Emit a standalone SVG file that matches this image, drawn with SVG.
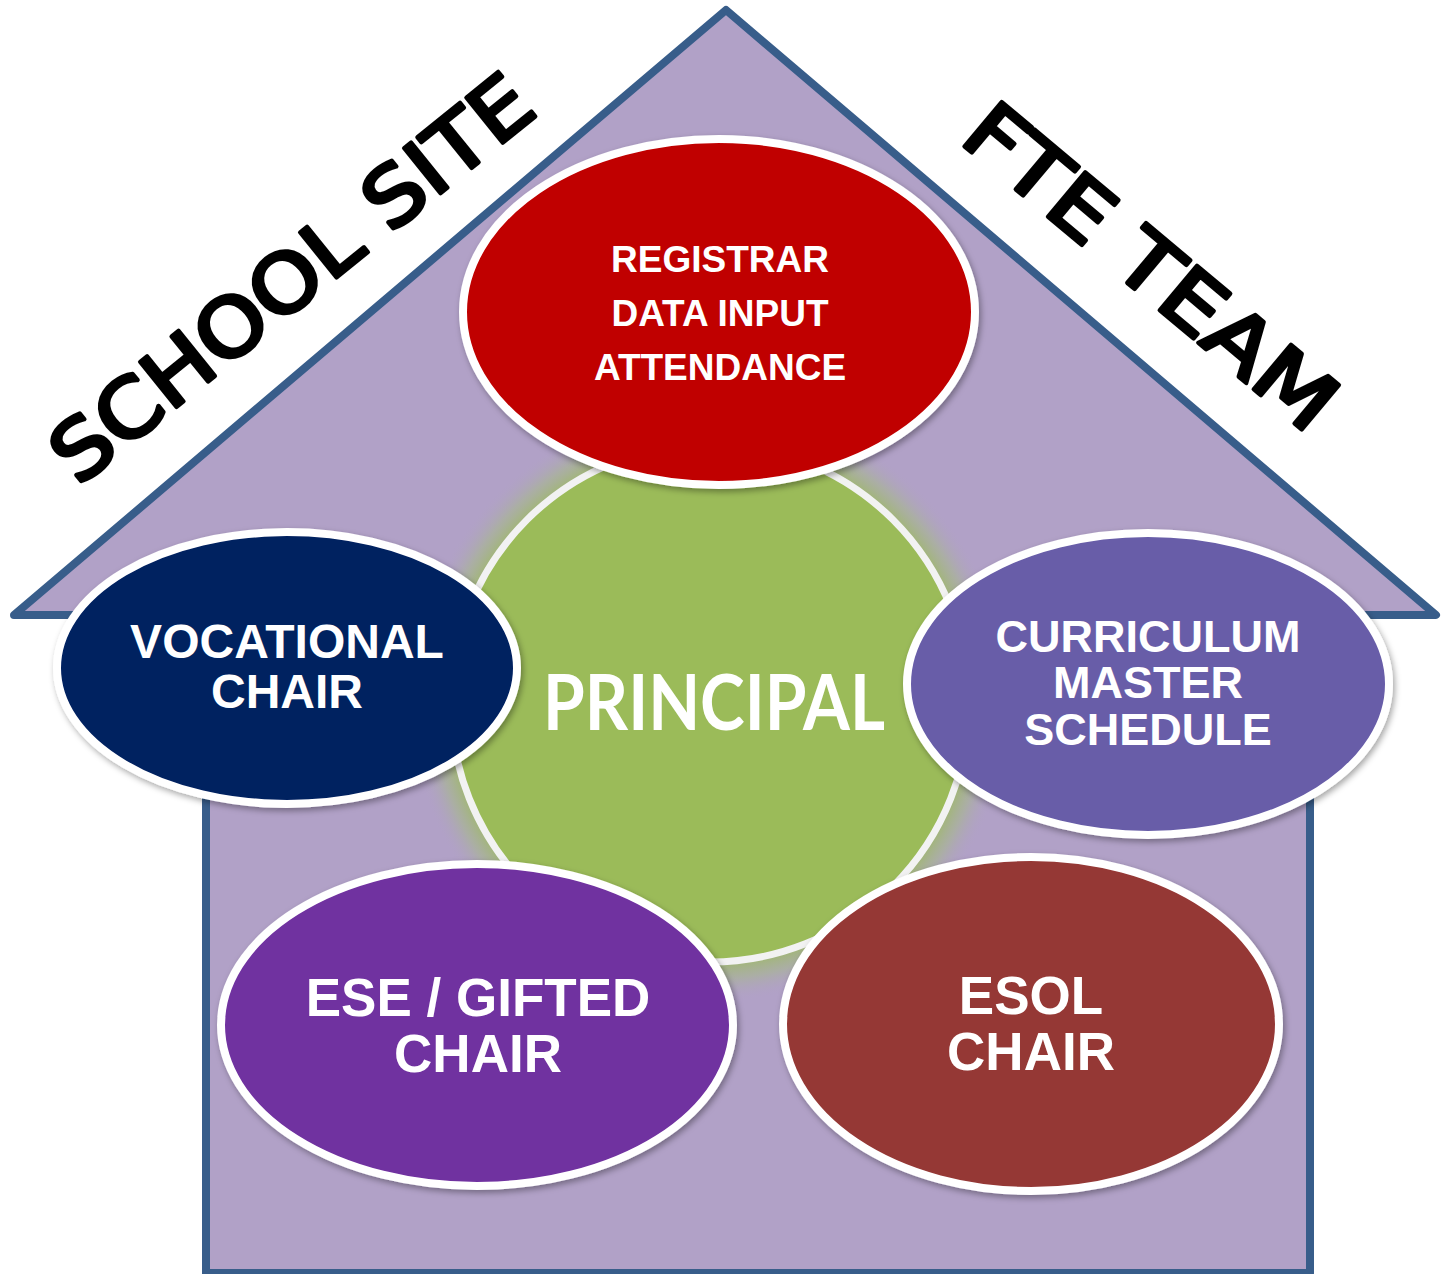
<svg xmlns="http://www.w3.org/2000/svg" width="1441" height="1274" viewBox="0 0 1441 1274">
  <defs>
    <radialGradient id="glow" gradientUnits="userSpaceOnUse" cx="710" cy="703" r="300">
      <stop offset="0.85" stop-color="#9BBB59" stop-opacity="0.9"/>
      <stop offset="0.92" stop-color="#A6B989" stop-opacity="0.55"/>
      <stop offset="1" stop-color="#B1A1C7" stop-opacity="0"/>
    </radialGradient>
    <filter id="shadow" x="-10%" y="-10%" width="120%" height="125%">
      <feDropShadow dx="2" dy="3" stdDeviation="3" flood-color="#000" flood-opacity="0.35"/>
    </filter>
  </defs>
  <style>
    .house { fill: #B1A1C7; stroke: #385D8A; stroke-width: 8; stroke-linejoin: round; }
    .roof { font-family: "DejaVu Sans", "Liberation Sans", sans-serif; font-weight: normal; font-size: 80px; fill: #000; stroke: #000; stroke-width: 4; stroke-linejoin: round; stroke-linecap: round; }
    .node { stroke: #FFFFFF; stroke-width: 8; filter: url(#shadow); }
    .lbl { font-family: "Liberation Sans", Arial, sans-serif; font-weight: bold; fill: #FFFFFF; text-anchor: middle; }
    .principal { font-family: Lato, "Open Sans", sans-serif; font-weight: bold; font-size: 76px; fill: #FFFFFF; text-anchor: middle; }
  </style>

  <g id="house">
    <path class="house" d="M14,615 L726,10 L1436,615 L1310,615 L1310,1273 L206,1273 L206,615 Z"/>
  </g>

  <g id="roof-labels">
    <text class="roof" transform="translate(309,300) rotate(-39)" text-anchor="middle" textLength="594" lengthAdjust="spacingAndGlyphs">SCHOOL SITE</text>
    <text class="roof" transform="translate(1133,288) rotate(40)" text-anchor="middle" textLength="458" lengthAdjust="spacingAndGlyphs">FTE TEAM</text>
  </g>

  <g id="connectors"></g>

  <g id="principal">
    <circle cx="710" cy="703" r="300" fill="url(#glow)"/>
    <circle cx="710" cy="703" r="259" fill="#9BBB59" stroke="#F2F2F2" stroke-width="7"/>
    <text class="principal" x="714" y="730" textLength="342" lengthAdjust="spacingAndGlyphs">PRINCIPAL</text>
  </g>

  <g id="registrar">
    <ellipse class="node" cx="719" cy="312" rx="256" ry="173" fill="#C00000"/>
    <text class="lbl" font-size="37" x="720" y="272">REGISTRAR</text>
    <text class="lbl" font-size="37" x="720" y="326">DATA INPUT</text>
    <text class="lbl" font-size="37" x="720" y="380">ATTENDANCE</text>
  </g>

  <g id="vocational">
    <ellipse class="node" cx="287" cy="668" rx="230" ry="136" fill="#002060"/>
    <text class="lbl" font-size="48" x="287" y="658">VOCATIONAL</text>
    <text class="lbl" font-size="48" x="287" y="708">CHAIR</text>
  </g>

  <g id="curriculum">
    <ellipse class="node" cx="1148" cy="684" rx="241" ry="151" fill="#675DA8"/>
    <text class="lbl" font-size="45" x="1148" y="652">CURRICULUM</text>
    <text class="lbl" font-size="45" x="1148" y="698">MASTER</text>
    <text class="lbl" font-size="45" x="1148" y="745">SCHEDULE</text>
  </g>

  <g id="ese-gifted">
    <ellipse class="node" cx="477" cy="1025" rx="256" ry="161" fill="#7030A0"/>
    <text class="lbl" font-size="53" x="478" y="1016">ESE / GIFTED</text>
    <text class="lbl" font-size="53" x="478" y="1072">CHAIR</text>
  </g>

  <g id="esol">
    <ellipse class="node" cx="1031" cy="1024" rx="248" ry="167" fill="#953735"/>
    <text class="lbl" font-size="53" x="1031" y="1014">ESOL</text>
    <text class="lbl" font-size="53" x="1031" y="1070">CHAIR</text>
  </g>
</svg>
